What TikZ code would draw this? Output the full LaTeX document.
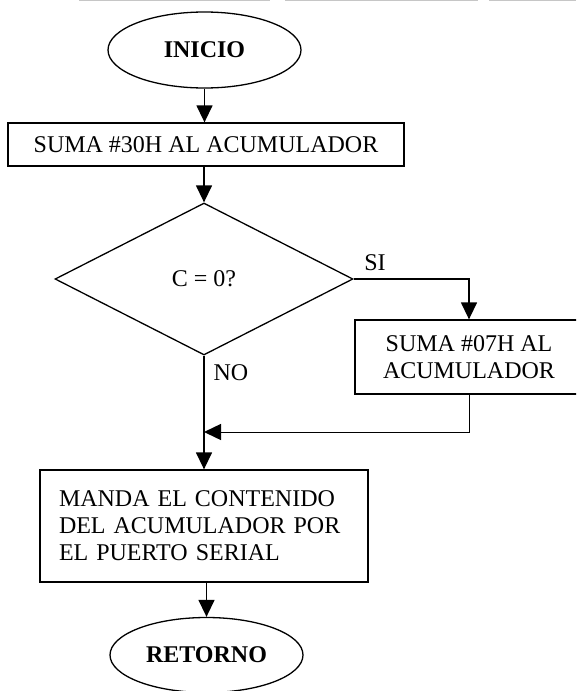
\documentclass[tikz,border=0pt]{standalone}
\usepackage{fontspec}
\setmainfont{Liberation Serif}
\usetikzlibrary{shapes.geometric,arrows.meta}

\tikzset{
  every node/.style={font=\fontsize{24pt}{27pt}\selectfont},
  terminal/.style={draw, ellipse, line width=1.3pt, inner sep=0pt,
    minimum width=193pt, minimum height=76pt,
    font=\fontsize{24pt}{27pt}\selectfont\bfseries},
  process/.style={draw, rectangle, line width=1.3pt, inner sep=0pt, align=center},
  decision/.style={draw, diamond, line width=1.3pt, inner sep=0pt,
    minimum width=298pt, minimum height=152pt},
  flow/.style={line width=1.4pt, -{Triangle[width=16pt,length=17pt]}},
  plain/.style={line width=1.4pt},
  branch/.style={inner sep=0pt}
}

\begin{document}
\begin{tikzpicture}[x=1pt,y=-1pt]
  \useasboundingbox (0,0) rectangle (576,691);
  \clip (0,0) rectangle (576,691);

  % faint rule along the top edge
  \draw[gray!45, line width=1.2pt] (79,0.6) -- (270,0.6) (285,0.6) -- (478,0.6) (489,0.6) -- (576,0.6);

  % blocks
  \node[terminal] (inicio) at (204.5,50) {INICIO};
  \node[process, minimum width=396pt, minimum height=43pt] (suma30) at (206,144.5)
    {SUMA \#30H AL ACUMULADOR};
  \node[decision] (cero) at (204,279) {C = 0?};
  \node[process, minimum width=228pt, minimum height=74pt] (suma07) at (469,357)
    {SUMA \#07H AL\\ACUMULADOR};
  \node[process, minimum width=328pt, minimum height=112pt, text width=290pt,
        align=left] (manda) at (204,526)
    {MANDA EL CONTENIDO\\DEL ACUMULADOR POR\\EL PUERTO SERIAL};
  \node[terminal, minimum height=75pt] (retorno) at (206.5,655) {RETORNO};

  % branch labels
  \node[branch] (si) at (375,263) {SI};
  \node[branch] (no) at (231,373) {NO};

  % junction where both branches meet
  \coordinate (junta) at (cero.south |- 0,432);

  % connectors
  \draw[flow] (inicio.south) -- (inicio.south |- suma30.north);
  \draw[flow] (suma30.south -| cero.north) -- (cero.north);
  \draw[flow] (cero.east) -- (cero.east -| suma07.north) -- (suma07.north);
  \draw[flow] (cero.south) -- (cero.south |- manda.north);
  \draw[line width=1pt] (suma07.south) -- (suma07.south |- junta) -- ([xshift=10pt]junta);
  \draw[flow] ([xshift=10pt]junta) -- (junta);
  \draw[flow] (manda.south -| retorno.north) -- (retorno.north);
\end{tikzpicture}
\end{document}
